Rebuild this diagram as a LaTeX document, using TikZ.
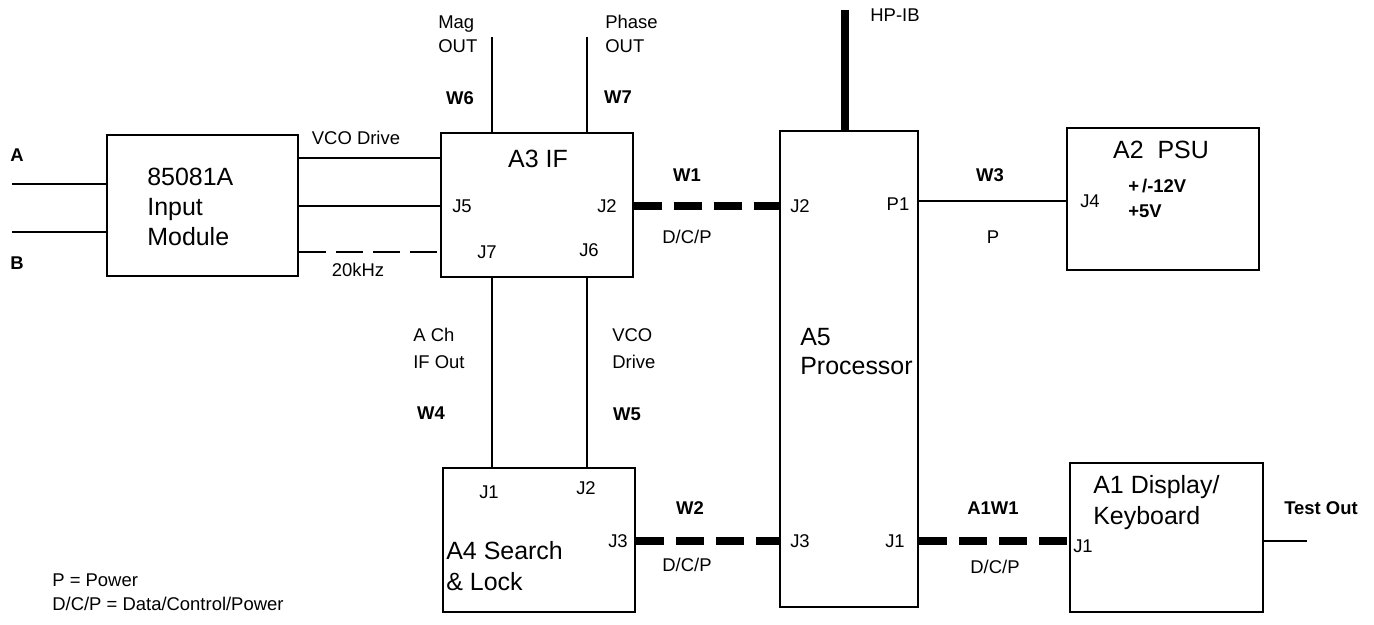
\documentclass[tikz,border=0pt]{standalone}
\usepackage{fontspec}
\setmainfont{Liberation Sans}

\begin{document}
\begin{tikzpicture}[
  x=0.02cm, y=-0.02cm,
  font=\fontsize{10.5}{13.7}\selectfont,
  box/.style={draw, line width=1.1pt, inner sep=0pt},
  big/.style={font=\fontsize{14.2}{#1}\selectfont, align=left, inner sep=0pt},
  big/.default=17pt,
  lbl/.style={inner sep=0pt, align=left},
  tag/.style={inner sep=0pt, font=\fontsize{10.5}{13.7}\selectfont\bfseries},
  wire/.style={line width=0.9pt},
  bus/.style={line width=4.5pt, dash pattern=on 0.56cm off 0.24cm}]
  \useasboundingbox (0,0) rectangle (1374,625);

  % boards
  \node[box, minimum width=3.82cm, minimum height=2.82cm] (inmod) at (202.5,205.5) {};
  \node[box, minimum width=3.84cm, minimum height=2.88cm] (a3) at (537,205) {};
  \node[box, minimum width=2.76cm, minimum height=9.52cm] (a5) at (849,369) {};
  \node[box, minimum width=3.84cm, minimum height=2.84cm] (a2) at (1163,199) {};
  \node[box, minimum width=3.84cm, minimum height=2.88cm] (a4) at (539,540) {};
  \node[box, minimum width=3.86cm, minimum height=2.98cm] (a1) at (1166.5,537.5) {};

  \node[big=17pt, anchor=west] (inmodlbl) at (147,207) {85081A\\Input\\Module};
  \node[big] (a3lbl) at (538,159) {A3 IF};
  \node[big=16.5pt, anchor=west] (a5lbl) at (800,352) {A5\\Processor};
  \node[big] (a2lbl) at (1161,150) {A2\ \ PSU};
  \node[big=18pt, anchor=west] (a4lbl) at (446,566) {A4 Search\\\& Lock};
  \node[big=17.6pt, anchor=west] (a1lbl) at (1093,503) {A1 Display/\\Keyboard};

  % connector names on the boards
  \node[lbl] (a3j5) at (462,206) {J5};
  \node[lbl] (a3j2) at (607,206) {J2};
  \node[lbl] (a3j7) at (487,252) {J7};
  \node[lbl] (a3j6) at (589,250) {J6};
  \node[lbl] (a5j2) at (800,206) {J2};
  \node[lbl] (a5p1) at (898,204) {P1};
  \node[lbl] (a5j3) at (800,541) {J3};
  \node[lbl] (a5j1) at (895,541) {J1};
  \node[lbl] (a2j4) at (1090,201) {J4};
  \node[lbl] (a4j1) at (489,492) {J1};
  \node[lbl] (a4j2) at (586,488) {J2};
  \node[lbl] (a4j3) at (618,541) {J3};
  \node[lbl] (a1j1) at (1083,546) {J1};
  \node[tag, anchor=west, align=left, font=\fontsize{10.5}{14.2}\selectfont\bfseries] (a2volts) at (1128,198.5) {+\,/-12V\\+5V};

  % cables and signal names
  \node[tag] (ina) at (17,155) {A};
  \node[tag] (inb) at (17,263) {B};
  \node[lbl] (vcolbl) at (356,138) {VCO Drive};
  \node[lbl] (khzlbl) at (358,270) {20kHz};
  \node[lbl, anchor=west, font=\fontsize{10.5}{13.7}\selectfont] (maglbl) at (438,34) {Mag\\OUT};
  \node[lbl, anchor=west, font=\fontsize{10.5}{13.7}\selectfont] (phaselbl) at (605,34) {Phase\\OUT};
  \node[tag] (w6) at (460,98) {W6};
  \node[tag] (w7) at (618,97) {W7};
  \node[lbl] (hpiblbl) at (895,15) {HP-IB};
  \node[tag] (w1) at (687,175) {W1};
  \node[lbl] (w1dcp) at (687,237) {D/C/P};
  \node[tag] (w3) at (990,175) {W3};
  \node[lbl] (w3p) at (993,237) {P};
  \node[lbl, anchor=west, font=\fontsize{10.5}{15.4}\selectfont] (achlbl) at (413,348.5) {A Ch\\IF Out};
  \node[lbl, anchor=west, font=\fontsize{10.5}{15.4}\selectfont] (vco2lbl) at (612,348.5) {VCO\\Drive};
  \node[tag] (w4) at (431,413) {W4};
  \node[tag] (w5) at (627,414) {W5};
  \node[tag] (w2) at (690,508) {W2};
  \node[lbl] (w2dcp) at (687,565) {D/C/P};
  \node[tag] (a1w1) at (993,508) {A1W1};
  \node[lbl] (a1w1dcp) at (995,567) {D/C/P};
  \node[tag, font=\fontsize{10.5}{13.7}\selectfont\bfseries] (testlbl) at (1321,508) {Test Out};
  \node[lbl, anchor=west] (legend) at (52,592) {P = Power\\D/C/P = Data/Control/Power};

  % free ends
  \coordinate (aend) at (12,184);
  \coordinate (bend) at (12,232);
  \coordinate (vco) at (0,158);
  \coordinate (magend) at (492,37);
  \coordinate (phaseend) at (587,37);
  \coordinate (hpib) at (845,10);
  \coordinate (testend) at (1307,541);

  \draw[wire] (aend) -- (inmod.west |- aend);
  \draw[wire] (bend) -- (inmod.west |- bend);
  \draw[wire] (inmod.east |- vco) -- (a3.west |- vco);
  \draw[wire] (inmod.east |- a3j5) -- (a3.west |- a3j5);
  \draw[wire, dash pattern=on 0.54cm off 0.2cm] (inmod.east |- a3j7) -- (a3.west |- a3j7);
  \draw[wire] (magend) -- (a3.north -| magend);
  \draw[wire] (phaseend) -- (a3.north -| phaseend);
  \draw[wire] (a3.south -| magend) -- (a4.north -| magend);
  \draw[wire] (a3.south -| phaseend) -- (a4.north -| phaseend);
  \draw[line width=5pt] (hpib) -- (a5.north -| hpib);
  \draw[wire] (a5.east |- a2j4) -- (a2.west |- a2j4);
  \draw[wire] (a1.east |- testend) -- (testend);

  % D/C/P buses
  \draw[bus] (a3.east |- a3j2) -- (a5.west |- a3j2);
  \draw[bus] (a4.east |- a4j3) -- (a5.west |- a4j3);
  \draw[bus] (a5.east |- a5j1) -- (a1.west |- a5j1);
\end{tikzpicture}
\end{document}
